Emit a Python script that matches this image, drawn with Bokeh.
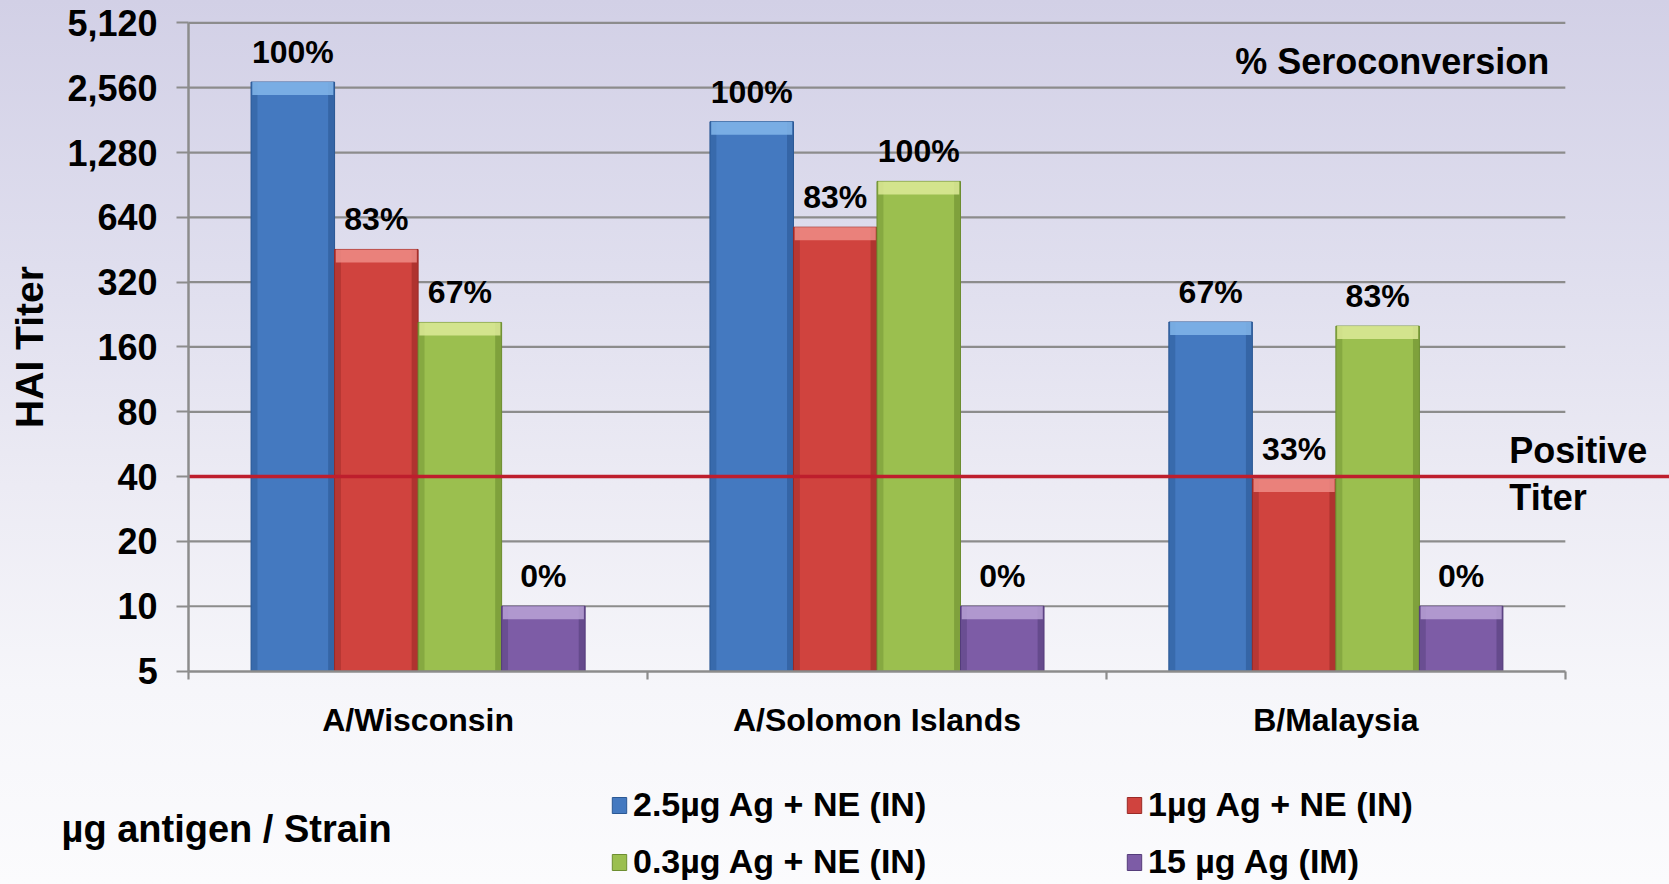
import numpy as np
from bokeh.plotting import figure
from bokeh.models import (Range1d, FixedTicker, Label, Legend, LegendItem,
                          ColumnDataSource)
from bokeh.core.properties import value
from bokeh.embed import file_html
from bokeh.resources import INLINE

# ---------------- data ----------------
strains = ["A/Wisconsin", "A/Solomon Islands", "B/Malaysia"]
series_names = ["2.5µg Ag + NE (IN)", "1µg Ag + NE (IN)",
                "0.3µg Ag + NE (IN)", "15 µg Ag (IM)"]
titer_2_5ug = [2720, 1780, 209]
titer_1ug = [454, 576, 39]
titer_0_3ug = [208, 940, 200]
titer_15ug_im = [10, 10, 10]
sero_2_5ug = ["100%", "100%", "67%"]
sero_1ug = ["83%", "83%", "33%"]
sero_0_3ug = ["67%", "100%", "83%"]
sero_15ug_im = ["0%", "0%", "0%"]
y_ticks = [5, 10, 20, 40, 80, 160, 320, 640, 1280, 2560, 5120]
y_tick_labels = ["5", "10", "20", "40", "80", "160", "320", "640",
                 "1,280", "2,560", "5,120"]
positive_titer = 40

# ---------------- styles ----------------
FONT = "Liberation Sans"
main_colors = ["#4479C0", "#D0433E", "#9BBF4F", "#7D5CA6"]
dark_colors = ["#2B5894", "#9A2A27", "#6D8E31", "#553D7B"]
light_colors = ["#82B6EA", "#EE8C86", "#DDEA98", "#B8A2D6"]
grid_color = "#8C8C8C"

n = len(strains)
cats = np.arange(n) + 0.5
bar_w = 0.182

# the frame covers the whole canvas; the axes are pinned at x=0 and y=5
p = figure(width=1669, height=884, y_axis_type="log",
           x_range=Range1d(-0.41, 3.227), y_range=Range1d(0.51, 6506),
           output_backend="svg", toolbar_location=None,
           min_border_left=0, min_border_right=0,
           min_border_top=0, min_border_bottom=0,
           styles={"background": "linear-gradient(to bottom, #D2D0E6 0%, #DFDEEE 30%, "
                                 "#ECEBF4 55%, #F6F6FA 78%, #FBFBFD 100%)"})
p.background_fill_alpha = 0
p.border_fill_alpha = 0
p.outline_line_color = None
p.xgrid.visible = False
p.ygrid.visible = False

# gridlines across the category area only
p.segment(x0=0, x1=n, y0=y_ticks[1:], y1=y_ticks[1:],
          line_color=grid_color, line_width=2.2)

# bars
all_vals = [titer_2_5ug, titer_1ug, titer_0_3ug, titer_15ug_im]
all_labs = [sero_2_5ug, sero_1ug, sero_0_3ug, sero_15ug_im]
cap_ratio = 2 ** (13 / 64.8)
edge_w = 0.014
items = []
for j in range(4):
    xs = cats + (j - 1.5) * bar_w
    vals = np.array(all_vals[j], dtype=float)
    src = ColumnDataSource(dict(x=xs, top=vals, cap_bottom=vals / cap_ratio,
                                lab=all_labs[j],
                                xl=xs - bar_w / 2 + edge_w / 2,
                                xr=xs + bar_w / 2 - edge_w / 2))
    r = p.vbar(x="x", top="top", bottom=y_ticks[0], width=bar_w, source=src,
               fill_color=main_colors[j], line_color=dark_colors[j], line_width=1)
    p.vbar(x="xl", top="top", bottom=y_ticks[0], width=edge_w, source=src,
           fill_color=dark_colors[j], fill_alpha=0.45, line_color=None)
    p.vbar(x="xr", top="top", bottom=y_ticks[0], width=edge_w, source=src,
           fill_color=dark_colors[j], fill_alpha=0.6, line_color=None)
    p.vbar(x="x", top="top", bottom="cap_bottom", width=bar_w * 0.97, source=src,
           fill_color=light_colors[j], fill_alpha=0.85, line_color=None)
    p.text(x="x", y="top", text="lab", source=src, text_align="center",
           text_baseline="bottom", y_offset=-12,
           text_font=value(FONT), text_font_size="32px", text_font_style="bold",
           text_color="black")
    items.append(LegendItem(label=series_names[j], renderers=[r]))

# positive titer line (from the y axis to the right edge)
p.ray(x=[0], y=[positive_titer], angle=0, length=0,
      line_color="#BE1E2D", line_width=3.5)
p.text(x=[n], y=[positive_titer], text=["Positive\nTiter"], x_offset=-56, y_offset=-3,
       text_align="left", text_baseline="middle", text_line_height=1.15,
       text_font=value(FONT), text_font_size="36px", text_font_style="bold",
       text_color="black")

# % Seroconversion
p.text(x=[n], y=[y_ticks[-1]], text=["% Seroconversion"], x_offset=-16, y_offset=39,
       text_align="right", text_baseline="middle",
       text_font=value(FONT), text_font_size="36px", text_font_style="bold",
       text_color="black")

# y axis
ya = p.yaxis[0]
ya.fixed_location = 0
ya.ticker = FixedTicker(ticks=y_ticks, minor_ticks=[])
ya.major_label_overrides = {t: l for t, l in zip(y_ticks, y_tick_labels)}
ya.bounds = (y_ticks[0], y_ticks[-1])
ya.axis_line_color = grid_color
ya.axis_line_width = 2.5
ya.major_tick_line_color = grid_color
ya.major_tick_line_width = 2.2
ya.major_tick_out = 12
ya.major_tick_in = 0
ya.minor_tick_out = 0
ya.minor_tick_in = 0
ya.major_label_standoff = 19
ya.major_label_text_font = FONT
ya.major_label_text_font_size = "36px"
ya.major_label_text_font_style = "bold"
ya.major_label_text_color = "black"
ya.axis_label = "HAI Titer"
ya.axis_label_text_font = FONT
ya.axis_label_text_font_size = "39px"
ya.axis_label_text_font_style = "bold"
ya.axis_label_text_color = "black"
ya.axis_label_standoff = 13

# x axis
xa = p.xaxis[0]
xa.fixed_location = y_ticks[0]
xa.ticker = FixedTicker(ticks=list(cats), minor_ticks=list(range(n + 1)))
xa.major_label_overrides = {float(c): s for c, s in zip(cats, strains)}
xa.bounds = (0, n)
xa.axis_line_color = grid_color
xa.axis_line_width = 2.5
xa.major_tick_out = 0
xa.major_tick_in = 0
xa.minor_tick_out = 8
xa.minor_tick_in = 0
xa.minor_tick_line_color = grid_color
xa.minor_tick_line_width = 2.2
xa.major_label_standoff = 23
xa.major_label_text_font = FONT
xa.major_label_text_font_size = "32px"
xa.major_label_text_font_style = "bold"
xa.major_label_text_color = "black"

# legend below the plot area
legend = Legend(items=items, location=(610, 3), orientation="horizontal", ncols=2,
                padding=0, margin=0, spacing=18, label_standoff=5, label_width=474,
                glyph_width=18, glyph_height=20,
                label_text_font=FONT, label_text_font_size="34px",
                label_text_font_style="bold", label_text_color="black",
                background_fill_alpha=0, border_line_alpha=0)
p.add_layout(legend, "center")

p.add_layout(Label(x=61, y=56, x_units="screen", y_units="screen",
                   text="µg antigen / Strain", text_align="left", text_baseline="middle",
                   text_font=FONT, text_font_size="38px", text_font_style="bold",
                   text_color="black"))

open("out.html", "w").write(file_html(p, INLINE))
